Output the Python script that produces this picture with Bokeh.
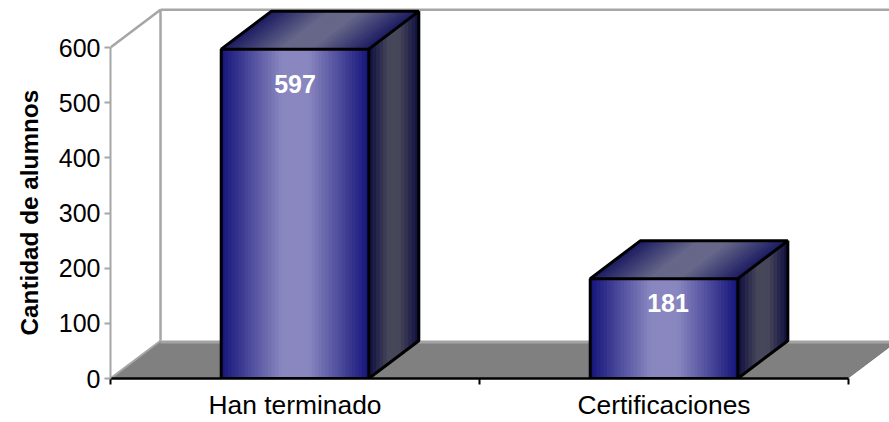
from bokeh.plotting import figure
from bokeh.models import ColumnDataSource, FixedTicker, Range1d, Title
from bokeh.core.properties import value
from bokeh.embed import file_html
from bokeh.resources import INLINE

categories = ["Han terminado", "Certificaciones"]
alumnos = [597, 181]
y_ticks = [0, 100, 200, 300, 400, 500, 600]
y_title = "Cantidad de alumnos"

FONT = "Liberation Sans"
DX = 0.1355      # oblique depth in slot units
DY = 68.5        # oblique depth in value units
BAR_W = 0.4
N = 44
NS = 14
FRONT = ["#14147a", "#8a87c0", "#14147a"]
TOP = ["#1b1b62", "#67678a", "#1b1b62"]
SIDE = ["#0e0e40", "#47475a", "#0e0e40"]


def grad(stops, t, plateau=0.0):
    d = max(0.0, (abs(t - 0.5) * 2 - plateau) / (1 - plateau))
    a, b = stops[1], stops[0]
    ca = [int(a[i:i + 2], 16) for i in (1, 3, 5)]
    cb = [int(b[i:i + 2], 16) for i in (1, 3, 5)]
    return "#%02x%02x%02x" % tuple(round(x + (y - x) * d) for x, y in zip(ca, cb))


p = figure(width=889, height=422, output_backend="svg", toolbar_location=None,
           x_range=Range1d(0, 2.111), y_range=Range1d(0, 685.2),
           min_border_left=110, min_border_right=0, min_border_top=0, min_border_bottom=44)
p.outline_line_color = None
p.grid.visible = False
p.background_fill_color = "white"

# Y axis
ya = p.yaxis[0]
ya.ticker = FixedTicker(ticks=y_ticks)
ya.bounds = (0, 600)
ya.axis_line_color = "#a6a6a6"
ya.axis_line_width = 2
ya.major_tick_line_color = "#a6a6a6"
ya.major_tick_line_width = 2
ya.major_tick_in = 0
ya.major_tick_out = 6
ya.minor_tick_line_color = None
ya.major_label_text_font = FONT
ya.major_label_text_font_size = "25px"
ya.major_label_text_color = "black"
ya.major_label_standoff = 4

p.add_layout(Title(text=y_title, align="left", offset=43, standoff=26,
                   text_font=FONT, text_font_style="bold", text_font_size="24.3px",
                   text_color="black"), "left")

# X axis (labels sit in a 44px band below the frame)
xa = p.xaxis[0]
xa.ticker = FixedTicker(ticks=[i + 0.5 for i in range(len(categories))],
                        minor_ticks=list(range(len(categories) + 1)))
xa.major_label_overrides = {i + 0.5: c for i, c in enumerate(categories)}
xa.bounds = (0, len(categories))
xa.axis_line_color = "black"
xa.axis_line_width = 2.5
xa.major_tick_line_color = None
xa.major_tick_in = 0
xa.major_tick_out = 0
xa.minor_tick_line_color = "black"
xa.minor_tick_line_width = 2
xa.minor_tick_in = 0
xa.minor_tick_out = 6
xa.major_label_text_font = FONT
xa.major_label_text_font_size = "26.4px"
xa.major_label_text_color = "black"
xa.major_label_standoff = 5

ymax = y_ticks[-1]
nc = len(categories)

# Floor
p.patch([0, DX, nc + 1, nc + DX, nc], [0, DY, DY, DY, 0], fill_color="#808080", line_color=None)
p.patch([DX, nc + 1, nc + 1, DX], [DY - 5, DY - 5, DY, DY], fill_color="#a3a3a3", line_color=None)
p.patch([nc, nc + DX, nc + 1, nc + 1], [0, DY, DY, -50], fill_color="white", line_color=None)

# Walls
p.line([0, DX, DX], [ymax, ymax + DY, DY], line_color="#a6a6a6", line_width=2.5)
p.line([0, DX], [0, DY], line_color="#a6a6a6", line_width=2)
p.line([DX, nc + 1], [ymax + DY, ymax + DY], line_color="#a6a6a6", line_width=2.5)

# Bars
for i, v in enumerate(alumnos):
    x0 = i + 0.5 - BAR_W / 2
    x1 = i + 0.5 + BAR_W / 2
    fx, fy, fc, tx, ty, tc, sx, sy, sc = [], [], [], [], [], [], [], [], []
    for k in range(N):
        a, b = k / N, (k + 1) / N + 0.01
        m = (k + 0.5) / N
        xa0 = x0 + (x1 - x0) * a
        xb0 = x0 + (x1 - x0) * b
        fx.append([xa0, xb0, xb0, xa0])
        fy.append([0, 0, v, v])
        fc.append(grad(FRONT, m, 0.18))
        tx.append([xa0, xb0, xb0 + DX, xa0 + DX])
        ty.append([v, v, v + DY, v + DY])
        tc.append(grad(TOP, m, 0.2))
    for k in range(NS):
        a, b = k / NS, min((k + 1) / NS + 0.05, 1)
        m = (k + 0.5) / NS
        sa = x1 + DX * a
        sb = x1 + DX * b
        sx.append([sa, sb, sb, sa])
        sy.append([DY * a, DY * b, v + DY * b, v + DY * a])
        sc.append(grad(SIDE, m, 0.2))
    for xs, ys, cs in ((fx, fy, fc), (tx, ty, tc), (sx, sy, sc)):
        p.patches(xs, ys, fill_color=cs, line_color=None)
    # Outlines
    p.line([x0, x0, x1, x1, x0], [0, v, v, 0, 0], line_color="black", line_width=3)
    p.line([x0, x0 + DX, x1 + DX, x1], [v, v + DY, v + DY, v], line_color="black", line_width=3)
    p.line([x1 + DX, x1 + DX, x1], [v + DY, DY, 0], line_color="black", line_width=3)

# Value labels
offsets = [64, 45]
src = ColumnDataSource(dict(x=[i + 0.5 for i in range(nc)],
                            y=[v - o for v, o in zip(alumnos, offsets)],
                            t=[str(v) for v in alumnos],
                            dx=[0, 4]))
p.text("x", "y", text="t", source=src, x_offset="dx", text_color="white", text_align="center",
       text_baseline="middle", text_font=value(FONT), text_font_style="bold",
       text_font_size="25px")

open("out.html", "w").write(file_html(p, INLINE))
